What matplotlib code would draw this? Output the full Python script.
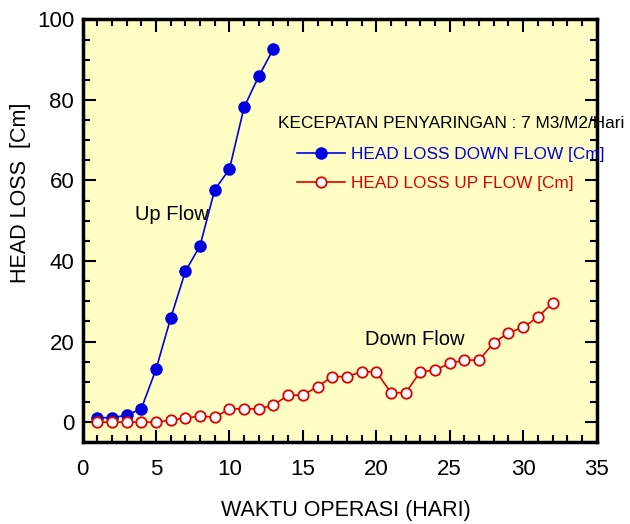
import matplotlib
matplotlib.use('Agg')
import matplotlib.pyplot as plt
from matplotlib.ticker import MultipleLocator

plt.rcParams['font.family'] = ['Liberation Sans', 'DejaVu Sans']

# data
days_down = list(range(1, 14))
head_down = [1.1, 1.1, 1.7, 3.3, 13.1, 25.8, 37.4, 43.8, 57.7, 62.8, 78.2, 85.9, 92.7]

days_up = list(range(1, 33))
head_up = [0, 0, 0, 0, 0, 0.5, 1.0, 1.5, 1.2, 3.3, 3.3, 3.3, 4.2, 6.7, 6.7, 8.8,
           11.3, 11.3, 12.5, 12.5, 7.3, 7.3, 12.5, 12.9, 14.6, 15.4, 15.4, 19.7,
           22.2, 23.5, 26.1, 29.6]

fig = plt.figure(figsize=(6.3, 5.24), dpi=100)
ax = fig.add_axes([0.131, 0.156, 0.816, 0.807])
ax.set_facecolor('#FDFDC4')

ax.plot(days_down, head_down, color='#0000E0', lw=1.2, marker='o', ms=8,
        mfc='#0000E0', mec='#0000E0', label='HEAD LOSS DOWN FLOW [Cm]', clip_on=False, zorder=3)
ax.plot(days_up, head_up, color='#E00000', lw=1.2, marker='o', ms=7.5,
        mfc='white', mec='#E00000', mew=1.3, label='HEAD LOSS UP FLOW [Cm]', clip_on=False, zorder=3)

ax.set_xlim(0, 35)
ax.set_ylim(-5, 100)
ax.xaxis.set_major_locator(MultipleLocator(5))
ax.xaxis.set_minor_locator(MultipleLocator(1))
ax.yaxis.set_major_locator(MultipleLocator(20))
ax.yaxis.set_minor_locator(MultipleLocator(5))
ax.tick_params(which='both', direction='in', top=True, right=True, labelsize=16, width=1.5)
ax.tick_params(which='major', length=9)
ax.tick_params(which='minor', length=5)
ax.tick_params(axis='x', which='major', pad=12)
ax.tick_params(axis='y', which='major', pad=6)
for sp in ax.spines.values():
    sp.set_linewidth(2.5)

ax.set_xlabel('WAKTU OPERASI (HARI)', fontsize=15.5)
ax.xaxis.set_label_coords(0.512, -0.137)
ax.set_ylabel('HEAD LOSS  [Cm]', fontsize=15.5)
ax.yaxis.set_label_coords(-0.1, 0.59)

ax.text(3.6, 51.5, 'Up Flow', fontsize=14.5, va='center')
ax.text(19.2, 20.5, 'Down Flow', fontsize=14.5, va='center')
ax.text(13.3, 74.2, 'KECEPATAN PENYARINGAN : 7 M3/M2/Hari', fontsize=12.4,
        va='center', clip_on=False)

leg = ax.legend(loc='upper left', bbox_to_anchor=(0.417, 0.698), frameon=False,
                fontsize=12.4, handlelength=2.8, handletextpad=0.35, labelspacing=0.78,
                labelcolor='linecolor', borderaxespad=0, borderpad=0)

fig.savefig('out.png', dpi=100)
